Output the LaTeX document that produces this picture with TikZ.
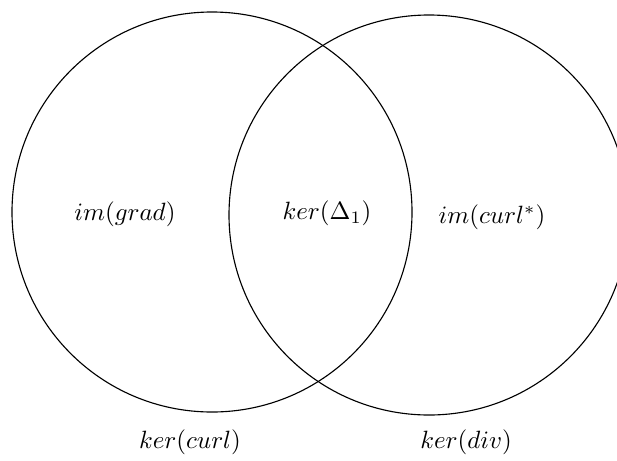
\documentclass[tikz,border=0pt]{standalone}
\begin{document}
\begin{tikzpicture}[x=0.4pt, y=-0.4pt,
  setcircle/.style={circle, draw, line width=0.45pt, minimum size=160pt, inner sep=0pt},
  setlabel/.style={inner sep=0pt}]
\useasboundingbox (0,0) rectangle (617,460);
% the two overlapping sets
\node[setcircle] (L) at (212,212) {};
\node[setcircle] (R) at (429,215) {};
% region labels
\node[setlabel] (grad) at (125,214) {$im(grad)$};
\node[setlabel] (harm) at (327,213) {$ker(\Delta_1)$};
\node[setlabel] (curlstar) at (492,217) {$im(curl^*)$};
% labels under the circles
\node[setlabel] (kcurl) at (190,442) {$ker(curl)$};
\node[setlabel] (kdiv) at (466,442) {$ker(div)$};
\end{tikzpicture}
\end{document}
